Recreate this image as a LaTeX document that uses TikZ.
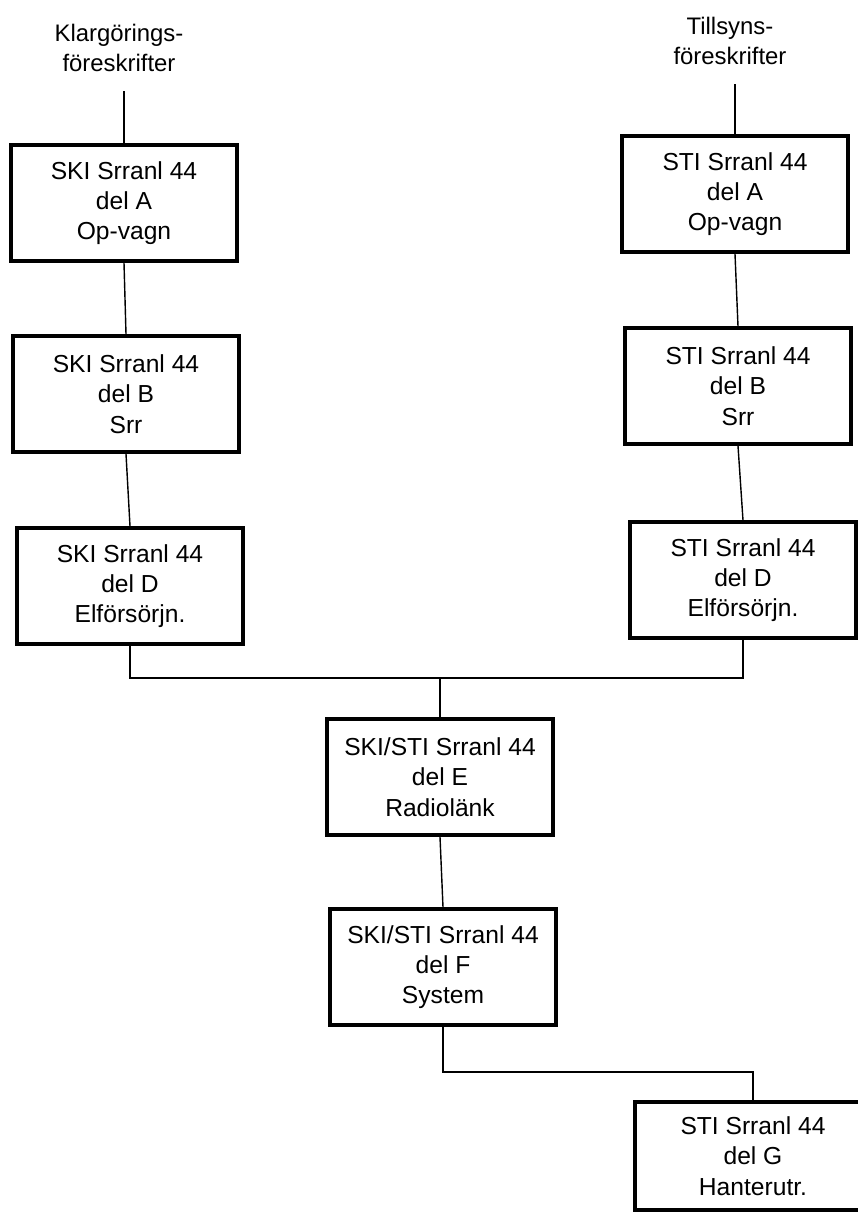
\documentclass[tikz,border=0pt]{standalone}
\usepackage{fontspec}
\setmainfont{Liberation Sans}
\usepackage{tikz}
\usetikzlibrary{calc}
\tikzset{
	delbox/.style={draw, line width=2.6pt, minimum width=5.65cm, minimum height=2.9cm, align=center, font=\fontsize{17.5}{21.5}\selectfont},
	rubrik/.style={align=center, inner ysep=13.5pt, font=\fontsize{17}{21.5}\selectfont},
	lank/.style={line width=1pt}
}

\begin{document}
\begin{tikzpicture}[x=0.025cm, y=-0.025cm]
		%%%%% START %%%%%
		\useasboundingbox (0, 0) rectangle (857, 1212);
		
		\node[rubrik] (klar) at (119, 48) {Klargörings-\\föreskrifter};
		\node[rubrik] (till) at (730, 41) {Tillsyns-\\föreskrifter};
		
		\node[delbox] (kA) at (124, 203) {SKI Srranl 44\\del A\\Op-vagn};
		\node[delbox] (kB) at (126, 394) {SKI Srranl 44\\del B\\Srr};
		\node[delbox] (kD) at (130, 586) {SKI Srranl 44\\del D\\Elförsörjn.};
		
		\node[delbox] (tA) at (735, 194) {STI Srranl 44\\del A\\Op-vagn};
		\node[delbox] (tB) at (738, 386) {STI Srranl 44\\del B\\Srr};
		\node[delbox] (tD) at (743, 580) {STI Srranl 44\\del D\\Elförsörjn.};
		
		\node[delbox] (E) at (440, 777) {SKI/STI Srranl 44\\del E\\Radiolänk};
		\node[delbox] (F) at (443, 967) {SKI/STI Srranl 44\\del F\\System};
		\node[delbox, minimum width=5.9cm, minimum height=2.7cm] (G) at (753, 1156) {STI Srranl 44\\del G\\Hanterutr.};
		
		\draw[lank] (kA.north |- klar.south) -- (kA.north);
		\draw[lank] (kA.south) -- (kB.north);
		\draw[lank] (kB.south) -- (kD.north);
		
		\draw[lank] (tA.north |- till.south) -- (tA.north);
		\draw[lank] (tA.south) -- (tB.north);
		\draw[lank] (tB.south) -- (tD.north);
		
		\coordinate (knut) at (440, 678);
		\draw[lank] (kD.south) |- (knut) -| (tD.south);
		\draw[lank] (knut) -- (E.north);
		\draw[lank] (E.south) -- (F.north);
		\draw[lank] (F.south) -- ++(0, 45) -| (G.north);
		
		%%%%% END %%%%%
	\end{tikzpicture}
\end{document}
